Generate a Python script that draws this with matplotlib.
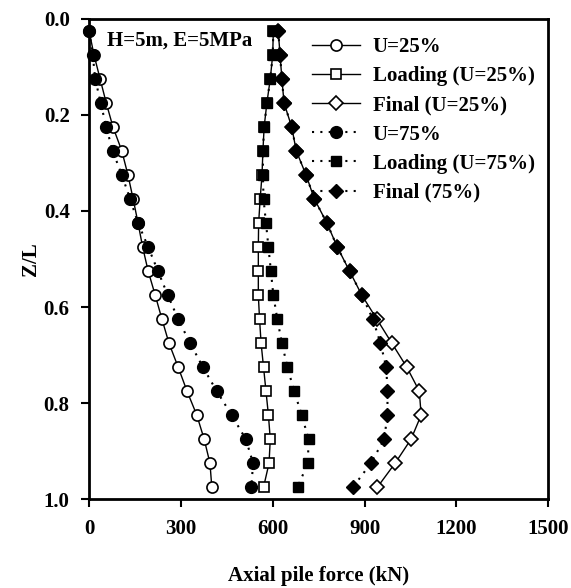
import matplotlib
matplotlib.use('Agg')
import matplotlib.pyplot as plt

plt.rcParams['font.family'] = ['Liberation Serif', 'DejaVu Serif']
plt.rcParams['font.weight'] = 'bold'

# depth ratio of the data points
zl = [0.025, 0.075, 0.125, 0.175, 0.225, 0.275, 0.325, 0.375, 0.425, 0.475,
      0.525, 0.575, 0.625, 0.675, 0.725, 0.775, 0.825, 0.875, 0.925, 0.975]

# axial pile force (kN)
u25 = [0, 16, 36, 56, 78, 107, 127, 144, 160, 175,
       193, 216, 238, 261, 291, 320, 352, 376, 395, 401]
load25 = [602, 600, 592, 581, 572, 568, 565, 559, 554, 553,
          553, 553, 557, 562, 570, 578, 586, 592, 588, 570]
final25 = [618, 624, 630, 637, 662, 677, 709, 736, 777, 811,
           851, 891, 940, 989, 1038, 1079, 1085, 1052, 1000, 942]
u75 = [0, 12, 20, 38, 56, 77, 107, 134, 160, 193,
       225, 257, 291, 330, 372, 417, 466, 512, 536, 530]
load75 = [602, 600, 592, 581, 572, 568, 568, 570, 578, 586,
          594, 602, 615, 630, 648, 670, 695, 717, 715, 681]
final75 = [618, 624, 630, 637, 662, 677, 709, 736, 777, 811,
           851, 891, 927, 952, 971, 975, 975, 964, 921, 862]

fig = plt.figure(figsize=(5.71, 5.88), dpi=100)
ax = fig.add_axes([0.156, 0.151, 0.804, 0.817])

dot = (0, (1, 3))
ax.plot(u25, zl, '-', color='k', lw=1, marker='o', ms=8, mfc='white', mec='k', mew=1.2, label='U=25%', clip_on=False, zorder=3)
ax.plot(load25, zl, '-', color='k', lw=1, marker='s', ms=7, mfc='white', mec='k', mew=1.2, label='Loading (U=25%)', zorder=3)
ax.plot(final25, zl, '-', color='k', lw=1, marker='D', ms=7, mfc='white', mec='k', mew=1.2, label='Final (U=25%)', zorder=3)
ax.plot(u75, zl, linestyle=dot, color='k', lw=1.5, marker='o', ms=8.5, mfc='k', mec='k', label='U=75%', clip_on=False, zorder=4)
ax.plot(load75, zl, linestyle=dot, color='k', lw=1.5, marker='s', ms=7.5, mfc='k', mec='k', label='Loading (U=75%)', zorder=4)
ax.plot(final75, zl, linestyle=dot, color='k', lw=1.5, marker='D', ms=7.5, mfc='k', mec='k', label='Final (75%)', zorder=4)

ax.set_xlim(0, 1500)
ax.set_ylim(1.0, 0.0)
ax.set_xticks([0, 300, 600, 900, 1200, 1500])
ax.set_yticks([0.0, 0.2, 0.4, 0.6, 0.8, 1.0])
ax.set_yticklabels(['0.0', '0.2', '0.4', '0.6', '0.8', '1.0'])
ax.tick_params(direction='out', length=6, width=1.5, pad=8, labelsize=15)
for s in ax.spines.values():
    s.set_linewidth(2)

ax.set_xlabel('Axial pile force (kN)', fontsize=15, fontweight='bold', labelpad=20)
ax.set_ylabel('Z/L', fontsize=15, fontweight='bold', labelpad=2)

ax.text(0.039, 0.975, 'H=5m, E=5MPa', transform=ax.transAxes, fontsize=15,
        fontweight='bold', va='top', ha='left')

leg = ax.legend(loc='upper left', bbox_to_anchor=(0.486, 0.962), frameon=False,
                fontsize=15, handlelength=2.3, handletextpad=0.6, labelspacing=0.44,
                borderaxespad=0, borderpad=0)

fig.savefig('out.png', dpi=100)
